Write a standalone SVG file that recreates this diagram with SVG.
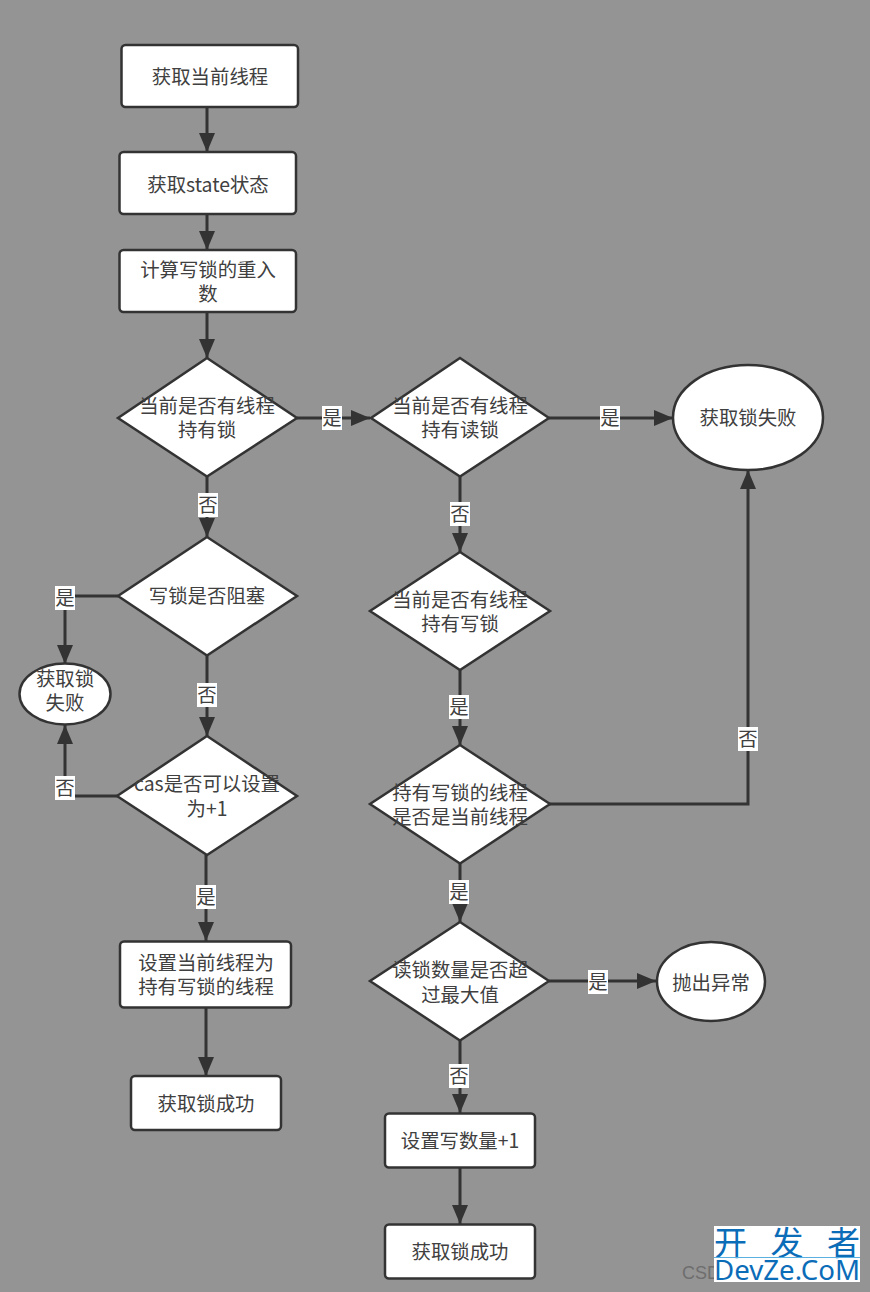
<svg xmlns="http://www.w3.org/2000/svg" width="870" height="1292" viewBox="0 0 870 1292">
<style>
.n{fill:#fff;stroke:#333;stroke-width:2.5}
.t{font-family:"Noto Sans CJK SC","Noto Sans",sans-serif;font-size:19.4px;fill:#404040;text-anchor:middle}
.c{fill:none;stroke:#333;stroke-width:3}
.lb{fill:#fff}
.l{font-family:"Noto Sans CJK SC","Noto Sans",sans-serif;font-size:19.4px;fill:#404040;text-anchor:middle}
</style>
<defs><marker id="a" markerUnits="userSpaceOnUse" markerWidth="20" markerHeight="18" refX="19" refY="9" orient="auto"><path d="M0 1L19 9L0 17Z" fill="#333"/></marker></defs>
<rect width="870" height="1292" fill="#949494"/>
<g id="connectors">
<path class="c" marker-end="url(#a)" d="M207 107V152"/>
<path class="c" marker-end="url(#a)" d="M207 214V250"/>
<path class="c" marker-end="url(#a)" d="M207 312V358"/>
<path class="c" marker-end="url(#a)" d="M297 418H370"/>
<path class="c" marker-end="url(#a)" d="M549 418H673"/>
<path class="c" marker-end="url(#a)" d="M207 476V537"/>
<path class="c" marker-end="url(#a)" d="M118 596H65V664"/>
<path class="c" marker-end="url(#a)" d="M207 655V736"/>
<path class="c" marker-end="url(#a)" d="M118 796H65V725"/>
<path class="c" marker-end="url(#a)" d="M206 855V941"/>
<path class="c" marker-end="url(#a)" d="M206 1007V1076"/>
<path class="c" marker-end="url(#a)" d="M460 476V552"/>
<path class="c" marker-end="url(#a)" d="M460 670V745"/>
<path class="c" marker-end="url(#a)" d="M549 804H748V470"/>
<path class="c" marker-end="url(#a)" d="M460 863V922"/>
<path class="c" marker-end="url(#a)" d="M549 981H656"/>
<path class="c" marker-end="url(#a)" d="M460 1040V1113"/>
<path class="c" marker-end="url(#a)" d="M460 1167V1224"/>
</g>
<g id="n1"><rect class="n" x="121.500" y="45" width="176.500" height="62" rx="4"/><text class="t" x="210" y="84">获取当前线程</text></g>
<g id="n2"><rect class="n" x="119.500" y="152" width="176.500" height="62" rx="4"/><text class="t" x="208" y="192">获取state状态</text></g>
<g id="n3"><rect class="n" x="119.500" y="250" width="176.500" height="62" rx="4"/><text class="t" x="208" y="277">计算写锁的重入</text><text class="t" x="208" y="301">数</text></g>
<g id="n4"><polygon class="n" points="207,358 297,418 207,476.500 118,418"/><text class="t" x="207" y="413">当前是否有线程</text><text class="t" x="207" y="437">持有锁</text></g>
<g id="n5"><polygon class="n" points="460,358 549,418 460,476.500 371,418"/><text class="t" x="460" y="413">当前是否有线程</text><text class="t" x="460" y="437">持有读锁</text></g>
<g id="n6"><ellipse class="n" cx="748" cy="417.500" rx="75" ry="52.500"/><text class="t" x="748" y="425">获取锁失败</text></g>
<g id="n7"><polygon class="n" points="207,537 297,596 207,655.500 118,596"/><text class="t" x="207" y="603">写锁是否阻塞</text></g>
<g id="n8"><polygon class="n" points="460,552 550,611 460,670 370,611"/><text class="t" x="460" y="607">当前是否有线程</text><text class="t" x="460" y="631">持有写锁</text></g>
<g id="n9"><ellipse class="n" cx="65" cy="694" rx="45.500" ry="30.500"/><text class="t" x="65" y="686">获取锁</text><text class="t" x="65" y="710">失败</text></g>
<g id="n10"><polygon class="n" points="207,736 297,796 207,855 117,796"/><text class="t" x="207" y="791">cas是否可以设置</text><text class="t" x="207" y="816">为+1</text></g>
<g id="n11"><polygon class="n" points="460,745 550,804 460,863.500 370,804"/><text class="t" x="460" y="800">持有写锁的线程</text><text class="t" x="460" y="824">是否是当前线程</text></g>
<g id="n12"><rect class="n" x="120" y="941.500" width="171" height="66" rx="4"/><text class="t" x="206" y="970">设置当前线程为</text><text class="t" x="206" y="994">持有写锁的线程</text></g>
<g id="n13"><polygon class="n" points="460,922 549,981 460,1040.500 370,981"/><text class="t" x="460" y="977">读锁数量是否超</text><text class="t" x="460" y="1002">过最大值</text></g>
<g id="n14"><ellipse class="n" cx="711" cy="981.500" rx="54" ry="39.500"/><text class="t" x="711" y="990">抛出异常</text></g>
<g id="n15"><rect class="n" x="131" y="1076" width="150" height="54" rx="4"/><text class="t" x="206" y="1111">获取锁成功</text></g>
<g id="n16"><rect class="n" x="385" y="1113.500" width="150" height="54" rx="4"/><text class="t" x="460" y="1148">设置写数量+1</text></g>
<g id="n17"><rect class="n" x="385" y="1224.500" width="150" height="54" rx="4"/><text class="t" x="460" y="1259">获取锁成功</text></g>
<g id="labels">
<rect class="lb" x="322" y="406" width="20" height="24"/><text class="l" x="332" y="425">是</text>
<rect class="lb" x="600" y="406" width="20" height="24"/><text class="l" x="610" y="425">是</text>
<rect class="lb" x="198" y="493" width="20" height="24"/><text class="l" x="208" y="512">否</text>
<rect class="lb" x="450" y="502" width="20" height="24"/><text class="l" x="460" y="521">否</text>
<rect class="lb" x="55" y="586" width="20" height="24"/><text class="l" x="65" y="605">是</text>
<rect class="lb" x="197" y="683" width="20" height="24"/><text class="l" x="207" y="702">否</text>
<rect class="lb" x="449" y="695" width="20" height="24"/><text class="l" x="459" y="714">是</text>
<rect class="lb" x="738" y="727" width="20" height="24"/><text class="l" x="748" y="746">否</text>
<rect class="lb" x="55" y="776" width="20" height="24"/><text class="l" x="65" y="795">否</text>
<rect class="lb" x="196" y="885" width="20" height="24"/><text class="l" x="206" y="904">是</text>
<rect class="lb" x="449" y="880" width="20" height="24"/><text class="l" x="459" y="899">是</text>
<rect class="lb" x="588" y="970" width="20" height="24"/><text class="l" x="598" y="989">是</text>
<rect class="lb" x="449" y="1064" width="20" height="24"/><text class="l" x="459" y="1083">否</text>
</g>
<g id="watermark">
<text x="682" y="1279" font-family="Liberation Sans,sans-serif" font-size="18" fill="#6e6e6e">CSD</text>
<rect x="714" y="1226" width="146" height="56" fill="#fff"/>
<text x="714" y="1255" font-family="Noto Sans CJK SC,sans-serif" font-size="33" fill="#0b6cb8" textLength="146" lengthAdjust="spacing">开发者</text>
<path d="M714 1257.500H860" stroke="#5ab0e0" stroke-width="1"/>
<text x="714" y="1280" font-family="Noto Sans,sans-serif" font-size="28" fill="#0b6cb8" textLength="146" lengthAdjust="spacingAndGlyphs">DevZe.CoM</text>
</g>
</svg>
